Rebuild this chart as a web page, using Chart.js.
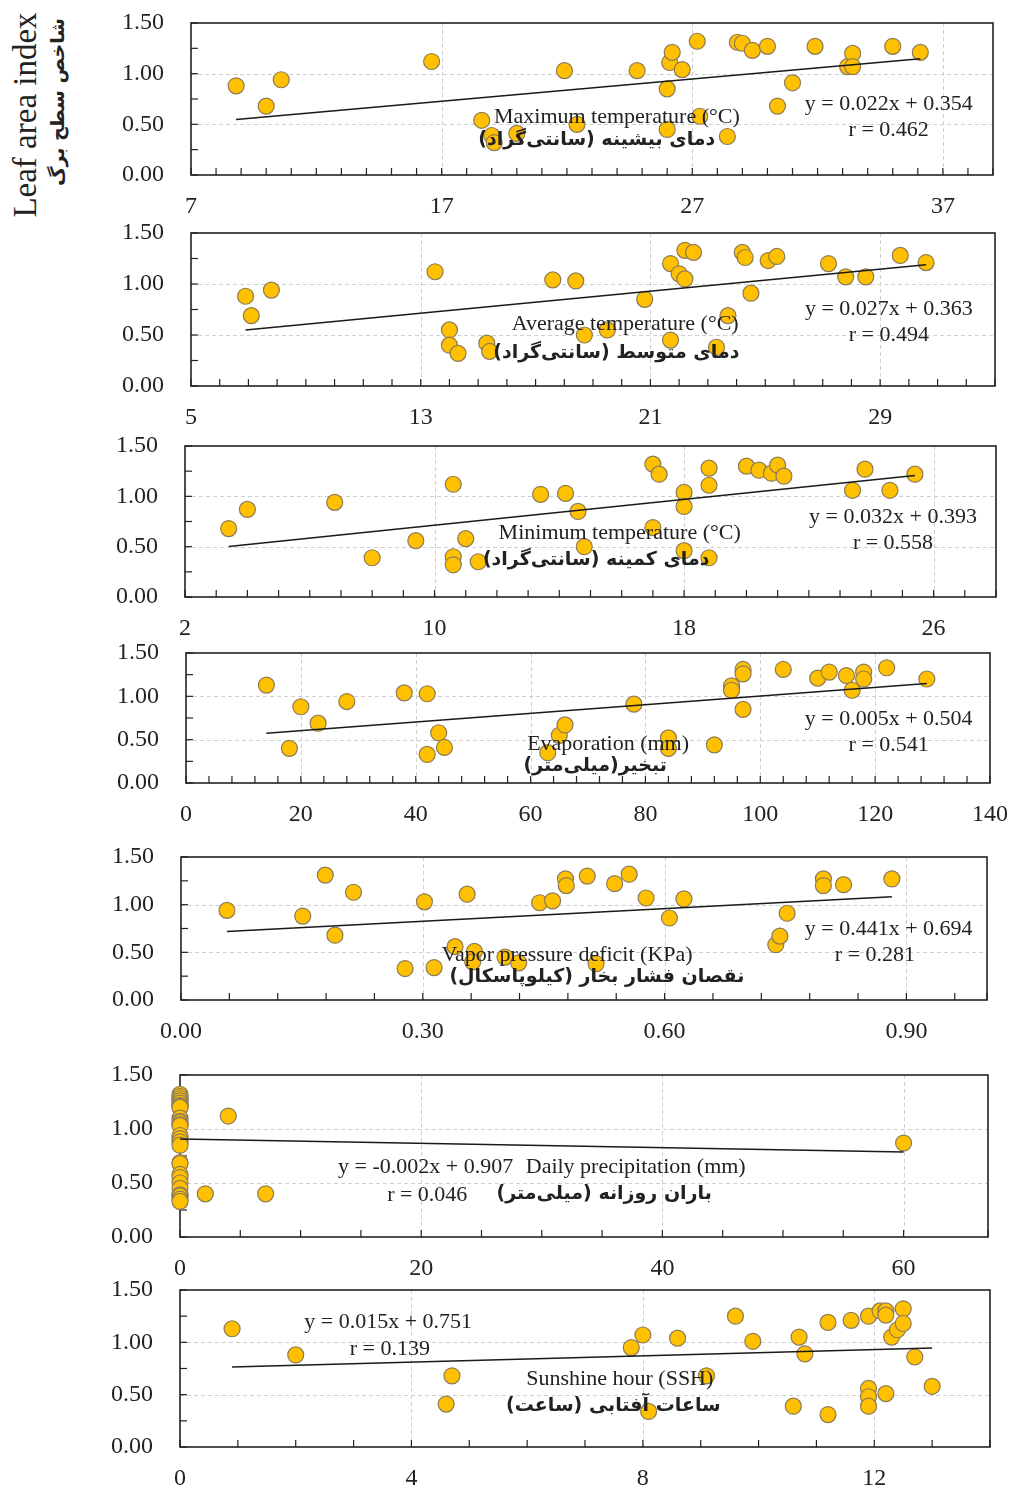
<!DOCTYPE html>
<html>
<head>
<meta charset="utf-8">
<script src="https://cdn.jsdelivr.net/npm/chart.js@4.4.0/dist/chart.umd.min.js"></script>
<style>
  body { margin: 0; background: #fff; width: 1012px; height: 1490px; position: relative; overflow: hidden; }
  canvas { position: absolute; left: 0; }
  .ytitle { position: absolute; white-space: nowrap; color: #222; transform: translate(-50%, -50%) rotate(-90deg); }
</style>
</head>
<body>
<div class="ytitle" style="left:25px;top:115px;font:33px 'Liberation Serif'">Leaf area index</div>
<div class="ytitle" style="left:57px;top:102px;font:bold 19px 'DejaVu Sans';direction:rtl">شاخص سطح برگ</div>

<script>
// values (LAI against each weather variable)
const tmaxX = [8.8, 10.0, 10.6, 16.6, 18.6, 19.0, 19.1, 20.0, 21.9, 22.4, 24.8, 26.0, 26.0, 26.1, 26.2, 26.6, 27.2, 27.3, 28.4, 28.8, 29.0, 29.4, 30.0, 30.4, 31.0, 31.9, 33.2, 33.4, 33.4, 35.0, 36.1];
const tmaxY = [0.88, 0.68, 0.94, 1.12, 0.54, 0.39, 0.32, 0.41, 1.03, 0.50, 1.03, 0.85, 0.45, 1.11, 1.21, 1.04, 1.32, 0.58, 0.38, 1.31, 1.30, 1.23, 1.27, 0.68, 0.91, 1.27, 1.07, 1.20, 1.07, 1.27, 1.21];

const tavgX = [6.9, 7.1, 7.8, 13.5, 14.0, 14.0, 14.3, 15.3, 15.4, 17.6, 18.4, 18.7, 19.5, 20.8, 21.7, 21.7, 22.0, 22.2, 22.2, 22.5, 23.3, 23.7, 24.2, 24.3, 24.5, 25.1, 25.4, 27.2, 27.8, 28.5, 29.7, 30.6];
const tavgY = [0.88, 0.69, 0.94, 1.12, 0.55, 0.40, 0.32, 0.42, 0.34, 1.04, 1.03, 0.50, 0.55, 0.85, 1.20, 0.45, 1.10, 1.33, 1.05, 1.31, 0.38, 0.69, 1.31, 1.26, 0.91, 1.23, 1.27, 1.20, 1.07, 1.07, 1.28, 1.21];

const tminX = [3.4, 4.0, 6.8, 8.0, 9.4, 10.6, 10.6, 10.6, 11.0, 11.4, 13.4, 14.2, 14.6, 14.8, 17.0, 17.0, 17.2, 18.0, 18.0, 18.0, 18.8, 18.8, 18.8, 20.0, 20.4, 20.8, 21.0, 21.2, 23.4, 23.8, 24.6, 25.4];
const tminY = [0.68, 0.87, 0.94, 0.39, 0.56, 1.12, 0.40, 0.32, 0.58, 0.35, 1.02, 1.03, 0.85, 0.50, 1.32, 0.69, 1.22, 1.04, 0.90, 0.46, 1.28, 1.11, 0.39, 1.30, 1.26, 1.23, 1.31, 1.20, 1.06, 1.27, 1.06, 1.22];

const evapX = [14, 18, 20, 23, 28, 38, 42, 42, 44, 45, 63, 65, 66, 78, 84, 84, 92, 95, 95, 97, 97, 97, 104, 110, 112, 115, 116, 118, 118, 122, 129];
const evapY = [1.13, 0.40, 0.88, 0.69, 0.94, 1.04, 1.03, 0.33, 0.58, 0.41, 0.35, 0.55, 0.67, 0.91, 0.52, 0.40, 0.44, 1.12, 1.07, 1.31, 1.26, 0.85, 1.31, 1.21, 1.28, 1.24, 1.07, 1.28, 1.20, 1.33, 1.20];

const vpdX = [0.057, 0.151, 0.179, 0.191, 0.214, 0.278, 0.302, 0.314, 0.340, 0.355, 0.364, 0.362, 0.402, 0.419, 0.445, 0.461, 0.477, 0.478, 0.504, 0.515, 0.538, 0.556, 0.577, 0.606, 0.624, 0.738, 0.743, 0.752, 0.797, 0.797, 0.822, 0.882];
const vpdY = [0.94, 0.88, 1.31, 0.68, 1.13, 0.33, 1.03, 0.34, 0.56, 1.11, 0.51, 0.40, 0.45, 0.39, 1.02, 1.04, 1.27, 1.20, 1.30, 0.38, 1.22, 1.32, 1.07, 0.86, 1.06, 0.58, 0.67, 0.91, 1.27, 1.20, 1.21, 1.27];

const rainX = [0, 0, 0, 0, 0, 0, 0, 0, 0, 0, 0, 0, 0, 0, 0, 0, 0, 0, 0, 0, 0, 0, 0, 0, 0, 0, 0, 4.0, 2.1, 7.1, 60];
const rainY = [1.32, 1.30, 1.28, 1.26, 1.24, 1.22, 1.21, 1.20, 1.10, 1.07, 1.06, 1.04, 1.03, 0.94, 0.91, 0.88, 0.85, 0.69, 0.68, 0.58, 0.55, 0.50, 0.45, 0.39, 0.38, 0.35, 0.33, 1.12, 0.40, 0.40, 0.87];

const sunX = [0.9, 2.0, 4.7, 4.6, 7.8, 8.0, 8.1, 8.6, 9.1, 9.6, 9.9, 10.7, 10.6, 10.8, 11.2, 11.2, 11.6, 11.9, 11.9, 11.9, 11.9, 12.1, 12.2, 12.2, 12.2, 12.3, 12.4, 12.5, 12.5, 12.7, 13.0];
const sunY = [1.13, 0.88, 0.68, 0.41, 0.95, 1.07, 0.34, 1.04, 0.68, 1.25, 1.01, 1.05, 0.39, 0.89, 1.19, 0.31, 1.21, 1.25, 0.56, 0.48, 0.39, 1.30, 1.30, 1.26, 0.51, 1.05, 1.12, 1.32, 1.18, 0.86, 0.58];

// trend lines
const slopes = [0.022, 0.027, 0.032, 0.005, 0.441, -0.002, 0.015];
const intercepts = [0.354, 0.363, 0.393, 0.504, 0.694, 0.907, 0.751];
const rValues = ['0.462', '0.494', '0.558', '0.541', '0.281', '0.046', '0.139'];

const enLabels = ['Maximum temperature (°C)', 'Average temperature (°C)', 'Minimum temperature (°C)',
  'Evaporation (mm)', 'Vapor pressure deficit (KPa)', 'Daily precipitation (mm)', 'Sunshine hour (SSH)'];
const faLabels = ['دمای بیشینه (سانتی‌گراد)', 'دمای متوسط (سانتی‌گراد)', 'دمای کمینه (سانتی‌گراد)',
  'تبخیر(میلی‌متر)', 'نقصان فشار بخار (کیلوپاسکال)', 'باران روزانه (میلی‌متر)', 'ساعات آفتابی (ساعت)'];

// y axis is the same on all panels
const yMin = 0, yMax = 1.5, yMinor = 0.25, yMajor = 0.5;

// layout of each panel on the page: [left, right, top, bottom], text spots as fractions of the plot area
const panels = [
  { x: tmaxX, y: tmaxY, box: [191, 993, 23, 175], min: 7, max: 39, minor: 1, major: 10, dec: 0,
    en: [.531, .618], fa: [.506, .77], eq: [.87, .533], r: [.87, .704] },
  { x: tavgX, y: tavgY, box: [191, 995, 233, 386], min: 5, max: 33, minor: 1, major: 8, dec: 0,
    en: [.540, .595], fa: [.529, .784], eq: [.868, .497], r: [.868, .667] },
  { x: tminX, y: tminY, box: [185, 996, 446, 597], min: 2, max: 28, minor: 1, major: 8, dec: 0,
    en: [.536, .576], fa: [.507, .755], eq: [.873, .470], r: [.873, .642] },
  { x: evapX, y: evapY, box: [186, 990, 653, 783], min: 0, max: 140, minor: 4, major: 20, dec: 0,
    en: [.525, .70], fa: [.509, .869], eq: [.874, .508], r: [.874, .708] },
  { x: vpdX, y: vpdY, box: [181, 987, 857, 1000], min: 0, max: 1.0, minor: 0.06, major: 0.3, dec: 2,
    en: [.479, .685], fa: [.516, .839], eq: [.878, .503], r: [.861, .685] },
  { x: rainX, y: rainY, box: [180, 988, 1075, 1237], min: 0, max: 67, minor: 5, major: 20, dec: 0,
    en: [.564, .568], fa: [.525, .735], eq: [.304, .568], r: [.306, .741] },
  { x: sunX, y: sunY, box: [180, 990, 1290, 1447], min: 0, max: 14, minor: 1, major: 4, dec: 0,
    en: [.543, .567], fa: [.535, .739], eq: [.257, .204], r: [.259, .376] },
];

const serif = "'Liberation Serif', 'Times New Roman', serif";
const onStep = (v, from, step) => Math.abs((v - from) / step - Math.round((v - from) / step)) < 1e-6;

// dashed grid, frame and inward tick marks like the Excel original
const framePlugin = {
  id: 'frame',
  beforeDatasetsDraw(chart) {
    const { ctx, chartArea: a, scales: { x, y } } = chart;
    const p = chart.options.plugins.frame;
    ctx.save();
    ctx.strokeStyle = '#cfcfcf';
    ctx.lineWidth = 1;
    ctx.setLineDash([4, 3]);
    x.ticks.forEach(t => {
      if (t.value > x.min && t.value < x.max && onStep(t.value, p.min, p.major)) {
        const px = Math.round(x.getPixelForValue(t.value)) + 0.5;
        ctx.beginPath(); ctx.moveTo(px, a.top); ctx.lineTo(px, a.bottom); ctx.stroke();
      }
    });
    y.ticks.forEach(t => {
      if (t.value > y.min && t.value < y.max && onStep(t.value, 0, yMajor)) {
        const py = Math.round(y.getPixelForValue(t.value)) + 0.5;
        ctx.beginPath(); ctx.moveTo(a.left, py); ctx.lineTo(a.right, py); ctx.stroke();
      }
    });
    ctx.setLineDash([]);
    ctx.strokeStyle = '#222';
    ctx.lineWidth = 1.6;
    ctx.strokeRect(a.left, a.top, a.right - a.left, a.bottom - a.top);
    ctx.lineWidth = 1.2;
    x.ticks.forEach(t => {
      const px = x.getPixelForValue(t.value);
      ctx.beginPath(); ctx.moveTo(px, a.bottom); ctx.lineTo(px, a.bottom - 7); ctx.stroke();
    });
    y.ticks.forEach(t => {
      const py = y.getPixelForValue(t.value);
      ctx.beginPath(); ctx.moveTo(a.left, py); ctx.lineTo(a.left + 7, py); ctx.stroke();
    });
    ctx.restore();
  }
};

// variable names, equation and r written inside each panel
const textPlugin = {
  id: 'texts',
  afterDatasetsDraw(chart) {
    const { ctx, chartArea: a } = chart;
    const p = chart.options.plugins.texts;
    const at = f => [a.left + f[0] * (a.right - a.left), a.top + f[1] * (a.bottom - a.top)];
    ctx.save();
    ctx.fillStyle = '#222';
    ctx.textAlign = 'center';
    ctx.textBaseline = 'middle';
    ctx.font = '22px ' + serif;
    let [tx, ty] = at(p.eqAt); ctx.fillText(p.eq, tx, ty);
    [tx, ty] = at(p.rAt); ctx.fillText('r = ' + p.r, tx, ty);
    [tx, ty] = at(p.enAt); ctx.fillText(p.en, tx, ty);
    ctx.font = "bold 19px 'DejaVu Sans'";
    ctx.direction = 'rtl';
    [tx, ty] = at(p.faAt); ctx.fillText(p.fa, tx, ty);
    ctx.restore();
  }
};

panels.forEach((p, i) => {
  const [left, right, top, bottom] = p.box;
  const cv = document.createElement('canvas');
  const h = bottom - top + 65;
  cv.width = 1012; cv.height = h;
  cv.style.top = (top - 15) + 'px';
  cv.style.width = '1012px'; cv.style.height = h + 'px';
  document.body.appendChild(cv);

  const pts = p.x.map((v, k) => ({ x: v, y: p.y[k] }));
  const x0 = Math.min(...p.x), x1 = Math.max(...p.x);
  const trend = [x0, x1].map(v => ({ x: v, y: slopes[i] * v + intercepts[i] }));
  const sign = intercepts[i] < 0 ? ' - ' : ' + ';
  const eq = 'y = ' + slopes[i].toFixed(3) + 'x' + sign + Math.abs(intercepts[i]).toFixed(3);

  new Chart(cv, {
    type: 'scatter',
    data: {
      datasets: [
        { data: trend, showLine: true, borderColor: '#1a1a1a', borderWidth: 1.5, pointRadius: 0 },
        { data: pts, backgroundColor: '#FFC000', borderColor: '#8C7B57', borderWidth: 1.2, pointRadius: 8, clip: false },
      ]
    },
    options: {
      responsive: false,
      animation: false,
      events: [],
      layout: { autoPadding: false, padding: { top: 15, right: 1012 - right, bottom: 0, left: 0 } },
      scales: {
        x: {
          type: 'linear', min: p.min, max: p.max,
          grid: { display: false }, border: { display: false },
          afterFit: s => { s.height = 50; s.paddingLeft = 0; s.paddingRight = 0; },
          ticks: {
            stepSize: p.minor, autoSkip: false, maxRotation: 0, padding: 9, color: '#222',
            font: { family: serif, size: 24 },
            callback: v => onStep(v, p.min, p.major) ? v.toFixed(p.dec) : ''
          }
        },
        y: {
          min: yMin, max: yMax,
          grid: { display: false }, border: { display: false },
          afterFit: s => { s.width = left; s.paddingTop = 0; s.paddingBottom = 0; },
          ticks: {
            stepSize: yMinor, autoSkip: false, padding: 19, color: '#222',
            font: { family: serif, size: 24 },
            callback: v => onStep(v, 0, yMajor) ? v.toFixed(2) : ''
          }
        }
      },
      plugins: {
        legend: { display: false },
        tooltip: { enabled: false },
        frame: { min: p.min, major: p.major },
        texts: { eq: eq, r: rValues[i], en: enLabels[i], fa: faLabels[i], enAt: p.en, faAt: p.fa, eqAt: p.eq, rAt: p.r }
      }
    },
    plugins: [framePlugin, textPlugin]
  });
});
</script>
</body>
</html>
